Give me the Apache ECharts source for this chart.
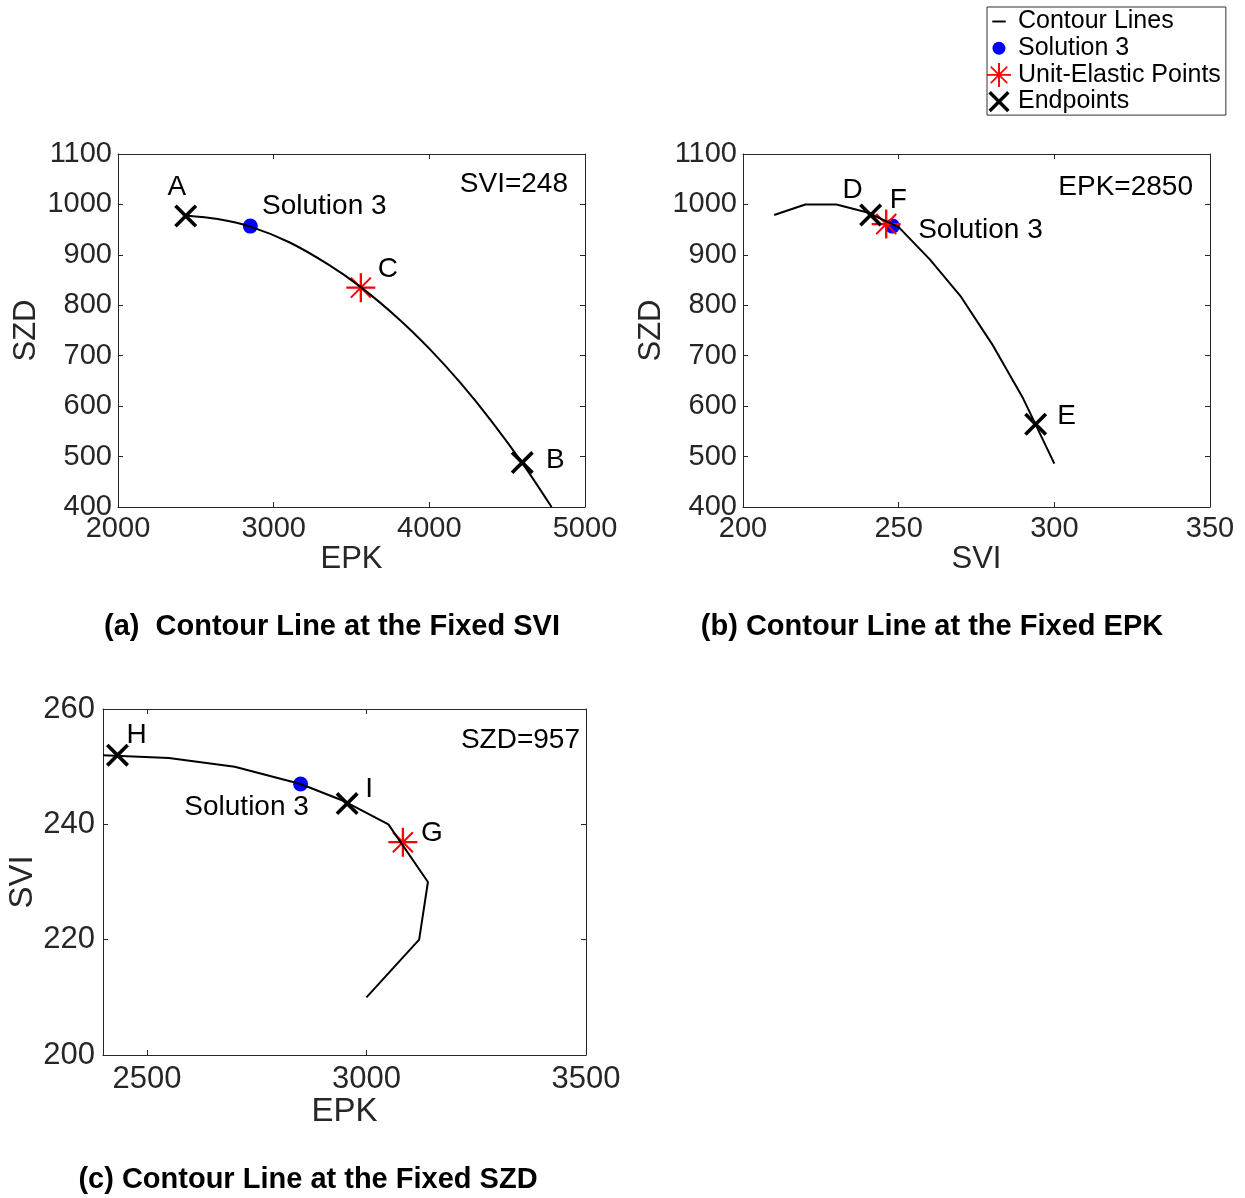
<!DOCTYPE html>
<html style="height: 100%">
<head>
<meta charset="utf-8">
<script src="https://cdn.jsdelivr.net/npm/echarts@6/dist/echarts.min.js"></script>
</head>
<body style="height: 100%; margin: 0; background: #fff">
<div id="container" style="width: 1245px; height: 1198px;"></div>
<script type="text/javascript">
// (a) contour at fixed SVI = 248
var epkA = [2430, 2640, 2850, 3100, 3350, 3560, 3800, 4000, 4200, 4400, 4600, 4785];
var szdA = [978, 971, 956, 925, 881, 836, 774, 714, 646, 570, 486, 400];
var solA = [2850, 957];
var unitA = [['C', 3560, 835]];
var endA = [['A', 2435, 977], ['B', 4597, 488]];

// (b) contour at fixed EPK = 2850
var sviB = [210, 220, 230, 240, 250, 260, 270, 280, 290, 300];
var szdB = [979, 1000, 1000, 984, 955, 891, 817, 723, 615, 486];
var solB = [248, 957];
var unitB = [['F', 246, 961]];
var endB = [['D', 241, 979], ['E', 294, 564]];

// (c) contour at fixed SZD = 957
var epkC = [2400, 2550, 2700, 2850, 2950, 3050, 3140, 3120, 3000];
var sviC = [252, 251.5, 250, 247, 244, 240, 230, 220, 210];
var solC = [2850, 247];
var unitC = [['G', 3083, 236.9]];
var endC = [['H', 2433, 252], ['I', 2956, 243.6]];

var ticksXC = [2500, 3000, 3500];

var FONT = 'Liberation Sans, Arial, Helvetica, sans-serif';
var TXT = '#262626';

// label offsets (px) relative to marker centre
var labelPos = {
    A: [-9, -29], B: [33, -2], C: [27, -18],
    D: [-18, -25], E: [31, -8], F: [12, -24],
    G: [29, -9], H: [19, -20], I: [22, -14],
    S0: [74, -20], S1: [88, 4], S2: [-54, 23]
};

var crossPath = 'path://M5 15 L15 5 L95 85 L85 95 Z M85 5 L95 15 L15 95 L5 85 Z';
var starPath = 'path://M0 46 L100 46 L100 54 L0 54 Z M54 0 L54 100 L46 100 L46 0 Z ' +
    'M13 18 L18 13 L87 82 L82 87 Z M82 13 L87 18 L18 87 L13 82 Z';

function zip(xs, ys) {
    var out = [];
    for (var i = 0; i < xs.length; i++) out.push([xs[i], ys[i]]);
    return out;
}

function lbl(key) {
    return {
        show: true, position: 'inside', offset: labelPos[key],
        formatter: key.charAt(0) === 'S' ? 'Solution 3' : key,
        color: '#000', fontSize: 28, fontFamily: FONT
    };
}

function pts(list) {
    return list.map(function (p) {
        return { name: p[0], value: [p[1], p[2]], label: lbl(p[0]) };
    });
}

function axisPair(dir, gi, min, max, interval, name, nameGap, margin, font, custom) {
    var base = {
        gridIndex: gi, type: 'value', min: min, max: max,
        axisLine: { show: true, lineStyle: { color: TXT, width: 1 } },
        axisTick: { show: true, inside: true, length: 5, lineStyle: { color: TXT } },
        splitLine: { show: false }
    };
    if (interval) base.interval = interval;
    var main = Object.assign({}, base, {
        position: dir === 'x' ? 'bottom' : 'left',
        name: name, nameLocation: 'middle', nameGap: nameGap,
        nameTextStyle: { color: TXT, fontSize: font[0], fontFamily: FONT },
        axisLabel: {
            show: true, color: TXT, fontSize: font[1], fontFamily: FONT,
            margin: margin, showMinLabel: true, showMaxLabel: true,
            hideOverlap: false,
            formatter: function (v) { return String(v); }
        }
    });
    var mirror = Object.assign({}, base, {
        position: dir === 'x' ? 'top' : 'right',
        axisLabel: { show: false }
    });
    if (custom) {
        main.axisTick = Object.assign({}, main.axisTick, { customValues: custom });
        main.axisLabel.customValues = custom;
        mirror.axisTick = Object.assign({}, mirror.axisTick, { customValues: custom });
    }
    if (dir === 'y') main.nameRotate = 90;
    return [main, mirror];
}

var grids = [
    { left: 118, top: 154, width: 467, height: 353 },
    { left: 743, top: 154, width: 467, height: 353 },
    { left: 103, top: 709, width: 483, height: 346 }
];

var fontAB = [31, 29];
var fontC = [33, 31];

var xAxes = [].concat(
    axisPair('x', 0, 2000, 5000, 1000, 'EPK', 37, 7, fontAB),
    axisPair('x', 1, 200, 350, 50, 'SVI', 37, 7, fontAB),
    axisPair('x', 2, 2400, 3500, null, 'EPK', 40, 9, fontC, ticksXC)
);
var yAxes = [].concat(
    axisPair('y', 0, 400, 1100, 100, 'SZD', 76, 6, fontAB),
    axisPair('y', 1, 400, 1100, 100, 'SZD', 76, 6, fontAB),
    axisPair('y', 2, 200, 260, 20, 'SVI', 64, 8, fontC)
);

function panelSeries(k, line, smooth, sol, unit, ends) {
    var ax = 2 * k;
    return [
        {
            name: 'Contour Lines', type: 'line', xAxisIndex: ax, yAxisIndex: ax,
            data: line, symbol: 'none', smooth: smooth,
            lineStyle: { color: '#000', width: 2 }, itemStyle: { color: '#000' },
            silent: true
        },
        {
            name: 'Solution 3', type: 'scatter', xAxisIndex: ax, yAxisIndex: ax,
            data: [{ value: sol, label: lbl('S' + k) }], symbol: 'circle', symbolSize: 15,
            itemStyle: { color: '#0000ff', opacity: 1 }
        },
        {
            name: 'Unit-Elastic Points', type: 'scatter', xAxisIndex: ax, yAxisIndex: ax,
            data: pts(unit), symbol: starPath, symbolSize: 29,
            itemStyle: { color: '#ff0000', opacity: 1 }
        },
        {
            name: 'Endpoints', type: 'scatter', xAxisIndex: ax, yAxisIndex: ax,
            data: pts(ends), symbol: crossPath, symbolSize: 23,
            itemStyle: { color: '#000', opacity: 1 }
        }
    ];
}

var series = [].concat(
    panelSeries(0, zip(epkA, szdA), 0.3, solA, unitA, endA),
    panelSeries(1, zip(sviB, szdB), false, solB, unitB, endB),
    panelSeries(2, zip(epkC, sviC), false, solC, unitC, endC)
);

function txt(x, y, text, align, bold, size) {
    return {
        type: 'text', x: x, y: y, silent: true,
        style: {
            text: text, fill: '#000',
            font: (bold ? 'bold ' : '') + size + 'px ' + FONT,
            align: align, textAlign: align,
            verticalAlign: 'middle', textVerticalAlign: 'middle'
        }
    };
}

var chart = echarts.init(document.getElementById('container'), null, { renderer: 'canvas' });
chart.setOption({
    animation: false,
    backgroundColor: '#fff',
    grid: grids,
    xAxis: xAxes,
    yAxis: yAxes,
    legend: {
        orient: 'vertical', left: 987, top: 7,
        padding: [2, 5, 1, 0], itemWidth: 28, itemHeight: 24, itemGap: 1.7,
        borderColor: '#333', borderWidth: 1, selectedMode: false,
        textStyle: { color: '#000', fontSize: 25, fontFamily: FONT },
        itemStyle: { borderWidth: 0, opacity: 1 },
        data: [
            { name: 'Contour Lines', icon: 'path://M0 0 M100 100 M22 46 L78 46 L78 54 L22 54 Z' },
            { name: 'Solution 3', icon: 'path://M0 0 M100 100 M50 23 A27 27 0 1 1 49.9 23 Z' },
            { name: 'Unit-Elastic Points', icon: starPath },
            { name: 'Endpoints', icon: 'path://M0 0 M100 100 M6 16 L16 6 L94 84 L84 94 Z M84 6 L94 16 L16 94 L6 84 Z' }
        ]
    },
    graphic: [
        txt(568, 184, 'SVI=248', 'right', false, 28),
        txt(1193, 187, 'EPK=2850', 'right', false, 28),
        txt(580, 740, 'SZD=957', 'right', false, 28),
        txt(332, 627, '(a)  Contour Line at the Fixed SVI', 'center', true, 29),
        txt(932, 627, '(b) Contour Line at the Fixed EPK', 'center', true, 29),
        txt(308, 1180, '(c) Contour Line at the Fixed SZD', 'center', true, 29)
    ],
    series: series
});
</script>
</body>
</html>
